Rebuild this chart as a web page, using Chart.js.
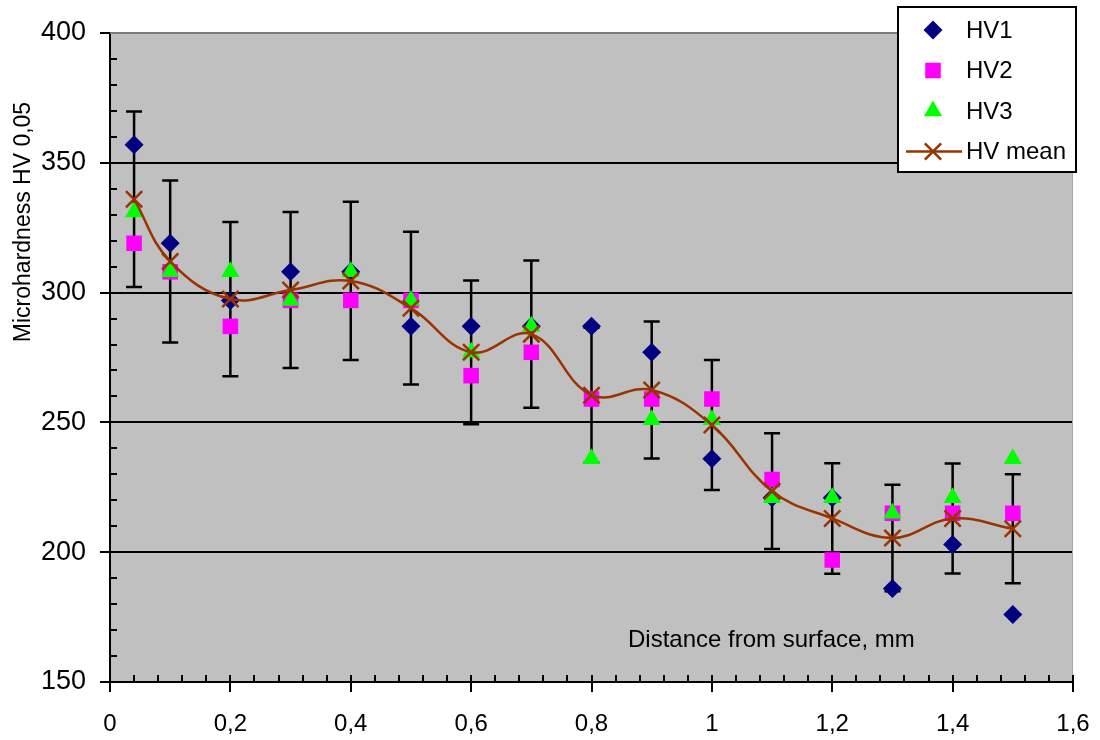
<!DOCTYPE html>
<html><head><meta charset="utf-8">
<script src="https://cdn.jsdelivr.net/npm/chart.js@4.4.0/dist/chart.umd.min.js"></script>
<style>html,body{margin:0;padding:0;background:#fff;overflow:hidden}#wrap{width:1100px;height:740px;position:relative}</style>
</head><body><div id="wrap"><canvas id="c" width="1100" height="740"></canvas></div>
<script>
// ---- data ----
const distances = [0.04, 0.1, 0.2, 0.3, 0.4, 0.5, 0.6, 0.7, 0.8, 0.9, 1.0, 1.1, 1.2, 1.3, 1.4, 1.5];
const hv1 = [357, 319, 297, 308, 308, 287, 287, 287, 287, 277, 236, 221, 221, 186, 203, 176];
const hv2 = [319, 308, 287, 297, 297, 297, 268, 277, 259, 259, 259, 228, 197, 215, 215, 215];
const hv3 = [331, 308, 308, 297, 308, 297, 277, 287, 236, 251, 251, 221, 221, 215, 221, 236];
const hvMean = [336, 312, 297.5, 301, 304.5, 294, 277, 284, 260.5, 262.5, 249, 223.5, 213, 205.5, 213, 209];
const hvMeanErr = [33.8, 31.2, 29.7, 30, 30.5, 29.4, 27.7, 28.4, 26, 26.4, 25, 22.3, 21.3, 20.5, 21.2, 21];
const seriesNames = ['HV1', 'HV2', 'HV3', 'HV mean'];
const yTitle = 'Microhardness HV 0,05';
const xTitle = 'Distance from surface, mm';

const FONT = '"Liberation Sans", Arial, Helvetica, sans-serif';
Chart.defaults.font.family = FONT;
Chart.defaults.color = '#000';

const pts = arr => arr.map((v, i) => ({ x: distances[i], y: v }));

const styles = [
  { pointStyle: 'rectRot', radius: 9.5, bg: '#000080', border: '#000080', bw: 0 },
  { pointStyle: 'rect', radius: 11, bg: '#FF00FF', border: '#FF00FF', bw: 0 },
  { pointStyle: 'triangle', radius: 10.5, bg: '#00FF00', border: '#00FF00', bw: 0 },
  { pointStyle: 'crossRot', radius: 11.5, bg: '#993300', border: '#993300', bw: 2.5 }
];

const plotBg = {
  id: 'plotBg',
  beforeDraw(chart) {
    const { ctx, chartArea: a } = chart;
    ctx.save();
    ctx.fillStyle = '#C0C0C0';
    ctx.fillRect(a.left, a.top, a.right - a.left, a.bottom - a.top);
    ctx.restore();
  }
};

const decor = {
  id: 'decor',
  beforeDatasetsDraw(chart) {
    const { ctx, chartArea: a, scales } = chart;
    const xs = scales.x, ys = scales.y;
    ctx.save();
    // plot frame top/right
    ctx.strokeStyle = '#7a7a7a'; ctx.lineWidth = 2;
    ctx.beginPath(); ctx.moveTo(a.left, a.top); ctx.lineTo(a.right, a.top); ctx.stroke();
    ctx.strokeStyle = '#a6a6a6'; ctx.lineWidth = 1;
    ctx.beginPath(); ctx.moveTo(a.right - 0.5, a.top); ctx.lineTo(a.right - 0.5, a.bottom); ctx.stroke();
    // y ticks
    ctx.strokeStyle = '#000'; ctx.lineWidth = 2;
    for (let v = 150; v <= 400; v += 10) {
      const y = Math.round(ys.getPixelForValue(v));
      ctx.beginPath();
      if (v % 50 === 0) { ctx.moveTo(a.left - 10, y); ctx.lineTo(a.left, y); }
      else { ctx.moveTo(a.left, y); ctx.lineTo(a.left + 7, y); }
      ctx.stroke();
    }
    // x ticks
    for (let k = 0; k <= 40; k++) {
      const x = Math.round(xs.getPixelForValue(k * 0.04));
      ctx.beginPath();
      if (k % 5 === 0) { ctx.moveTo(x, a.bottom - 7); ctx.lineTo(x, a.bottom + 10); }
      else { ctx.moveTo(x, a.bottom - 7); ctx.lineTo(x, a.bottom); }
      ctx.stroke();
    }
    // error bars on mean
    ctx.lineWidth = 2.5;
    hvMean.forEach((m, i) => {
      const x = xs.getPixelForValue(distances[i]);
      const yt = ys.getPixelForValue(m + hvMeanErr[i]);
      const yb = ys.getPixelForValue(m - hvMeanErr[i]);
      ctx.beginPath();
      ctx.moveTo(x, yt); ctx.lineTo(x, yb);
      ctx.moveTo(x - 8, yt); ctx.lineTo(x + 8, yt);
      ctx.moveTo(x - 8, yb); ctx.lineTo(x + 8, yb);
      ctx.stroke();
    });
    // in-plot x title
    ctx.fillStyle = '#000';
    ctx.font = '24px ' + FONT;
    ctx.textAlign = 'left'; ctx.textBaseline = 'alphabetic';
    ctx.fillText(xTitle, 628, 647);
    ctx.restore();
  },
  afterDraw(chart) {
    const { ctx } = chart;
    ctx.save();
    // y title
    ctx.translate(24, 222);
    ctx.rotate(-Math.PI / 2);
    ctx.fillStyle = '#000';
    ctx.font = '23px ' + FONT;
    ctx.textAlign = 'center'; ctx.textBaseline = 'middle';
    ctx.fillText(yTitle, 0, 0);
    ctx.restore();
    // legend
    ctx.save();
    const L = 898, T = 7, R = 1076, B = 172;
    ctx.fillStyle = '#fff';
    ctx.fillRect(L, T, R - L, B - T);
    ctx.strokeStyle = '#000'; ctx.lineWidth = 2;
    ctx.strokeRect(L, T, R - L, B - T);
    const rows = [30, 70.5, 111, 151.5];
    ctx.font = '24px ' + FONT;
    ctx.textAlign = 'left'; ctx.textBaseline = 'middle';
    seriesNames.forEach((name, i) => {
      const s = styles[i];
      const y = rows[i];
      if (i === 3) {
        ctx.strokeStyle = s.border; ctx.lineWidth = 2.5;
        ctx.beginPath(); ctx.moveTo(906, y); ctx.lineTo(962, y); ctx.stroke();
      }
      ctx.fillStyle = s.bg; ctx.strokeStyle = s.border; ctx.lineWidth = s.bw || 0;
      Chart.helpers.drawPoint(ctx, { pointStyle: s.pointStyle, radius: s.radius, rotation: 0, borderWidth: s.bw }, 933, y);
      ctx.fillStyle = '#000';
      ctx.fillText(name, 966, y + 1);
    });
    ctx.restore();
  }
};

const seriesData = [hv1, hv2, hv3, hvMean];
const orders = [3, 2, 1, 0];
const datasets = seriesData.map((arr, i) => {
  const s = styles[i];
  return {
    label: seriesNames[i],
    data: pts(arr),
    order: orders[i],
    showLine: i === 3,
    borderColor: s.border,
    backgroundColor: s.bg,
    borderWidth: 2.5,
    tension: 0.4,
    pointStyle: s.pointStyle,
    pointRadius: s.radius,
    pointHoverRadius: s.radius,
    pointBackgroundColor: s.bg,
    pointBorderColor: s.border,
    pointBorderWidth: s.bw
  };
});

new Chart(document.getElementById('c'), {
  type: 'scatter',
  data: { datasets },
  options: {
    responsive: false,
    animation: false,
    devicePixelRatio: 1,
    events: [],
    layout: { padding: { top: 33, right: 27, bottom: 0, left: 0 } },
    plugins: { legend: { display: false }, tooltip: { enabled: false } },
    scales: {
      x: {
        type: 'linear', min: 0, max: 1.6,
        afterFit: s => { s.height = 58; s.paddingLeft = 0; s.paddingRight = 0; },
        grid: { display: false, drawTicks: false },
        border: { display: true, color: '#000', width: 2 },
        ticks: {
          stepSize: 0.2, padding: 28, maxRotation: 0, autoSkip: false,
          font: { size: 24 }, color: '#000',
          callback: v => String(Math.round(v * 10) / 10).replace('.', ',')
        }
      },
      y: {
        type: 'linear', min: 150, max: 400,
        afterFit: s => { s.width = 110; s.paddingTop = 0; s.paddingBottom = 0; },
        grid: {
          drawTicks: false, lineWidth: 2,
          color: c => (c.tick && (c.tick.value === 150 || c.tick.value === 400)) ? 'rgba(0,0,0,0)' : '#000'
        },
        border: { display: true, color: '#000', width: 2 },
        ticks: { stepSize: 50, padding: 24, font: { size: 27 }, color: '#000' }
      }
    }
  },
  plugins: [plotBg, decor]
});
</script></body></html>
